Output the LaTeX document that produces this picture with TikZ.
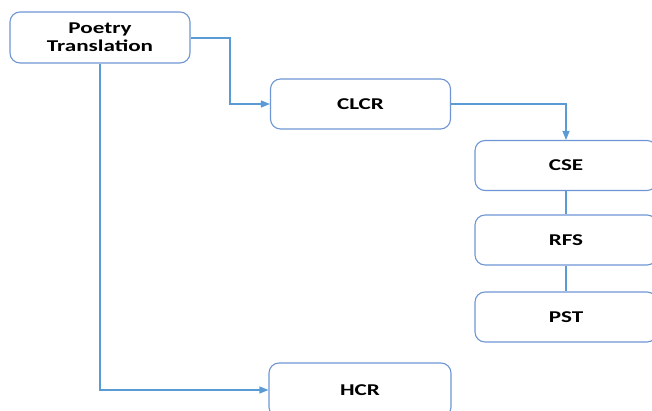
\documentclass[tikz,border=0pt]{standalone}
\usepackage{fontspec}
\setmainfont[FakeStretch=1.4]{Carlito}
\usetikzlibrary{arrows.meta}
\definecolor{boxblue}{RGB}{110,150,212}
\definecolor{lineblue}{RGB}{91,155,213}
\begin{document}
\begin{tikzpicture}[x=1pt,y=-1pt,
  box/.style={draw=boxblue, line width=1.1pt, rounded corners=10pt, fill=white,
    minimum width=180pt, minimum height=50pt, inner sep=0pt, align=center,
    font=\fontsize{16.5}{18}\selectfont\bfseries},
  conn/.style={draw=lineblue, line width=1.2pt},
  arr/.style={conn, -{Triangle[length=9pt,width=7pt]}}]
\useasboundingbox (0,0) rectangle (652,411);
\node[box, minimum height=51pt] (pt) at (100,37.5) {Poetry\\Translation};
\node[box] (clcr) at (360.5,104) {CLCR};
\node[box, minimum width=182pt] (cse) at (566,165.5) {CSE};
\node[box, minimum width=182pt] (rfs) at (566,240) {RFS};
\node[box, minimum width=182pt] (pst) at (566,317) {PST};
\node[box, minimum width=182pt, minimum height=54pt] (hcr) at (360,390) {HCR};
\coordinate (k1) at (230,38);
\draw[arr] (pt.east |- k1) -- (k1) |- (clcr.west);
\draw[arr] (clcr.east) -| (cse.north);
\draw[conn] (cse.south) -- (rfs.north);
\draw[conn] (rfs.south) -- (pst.north);
\draw[arr] (pt.south) |- (hcr.west);
\end{tikzpicture}
\end{document}
